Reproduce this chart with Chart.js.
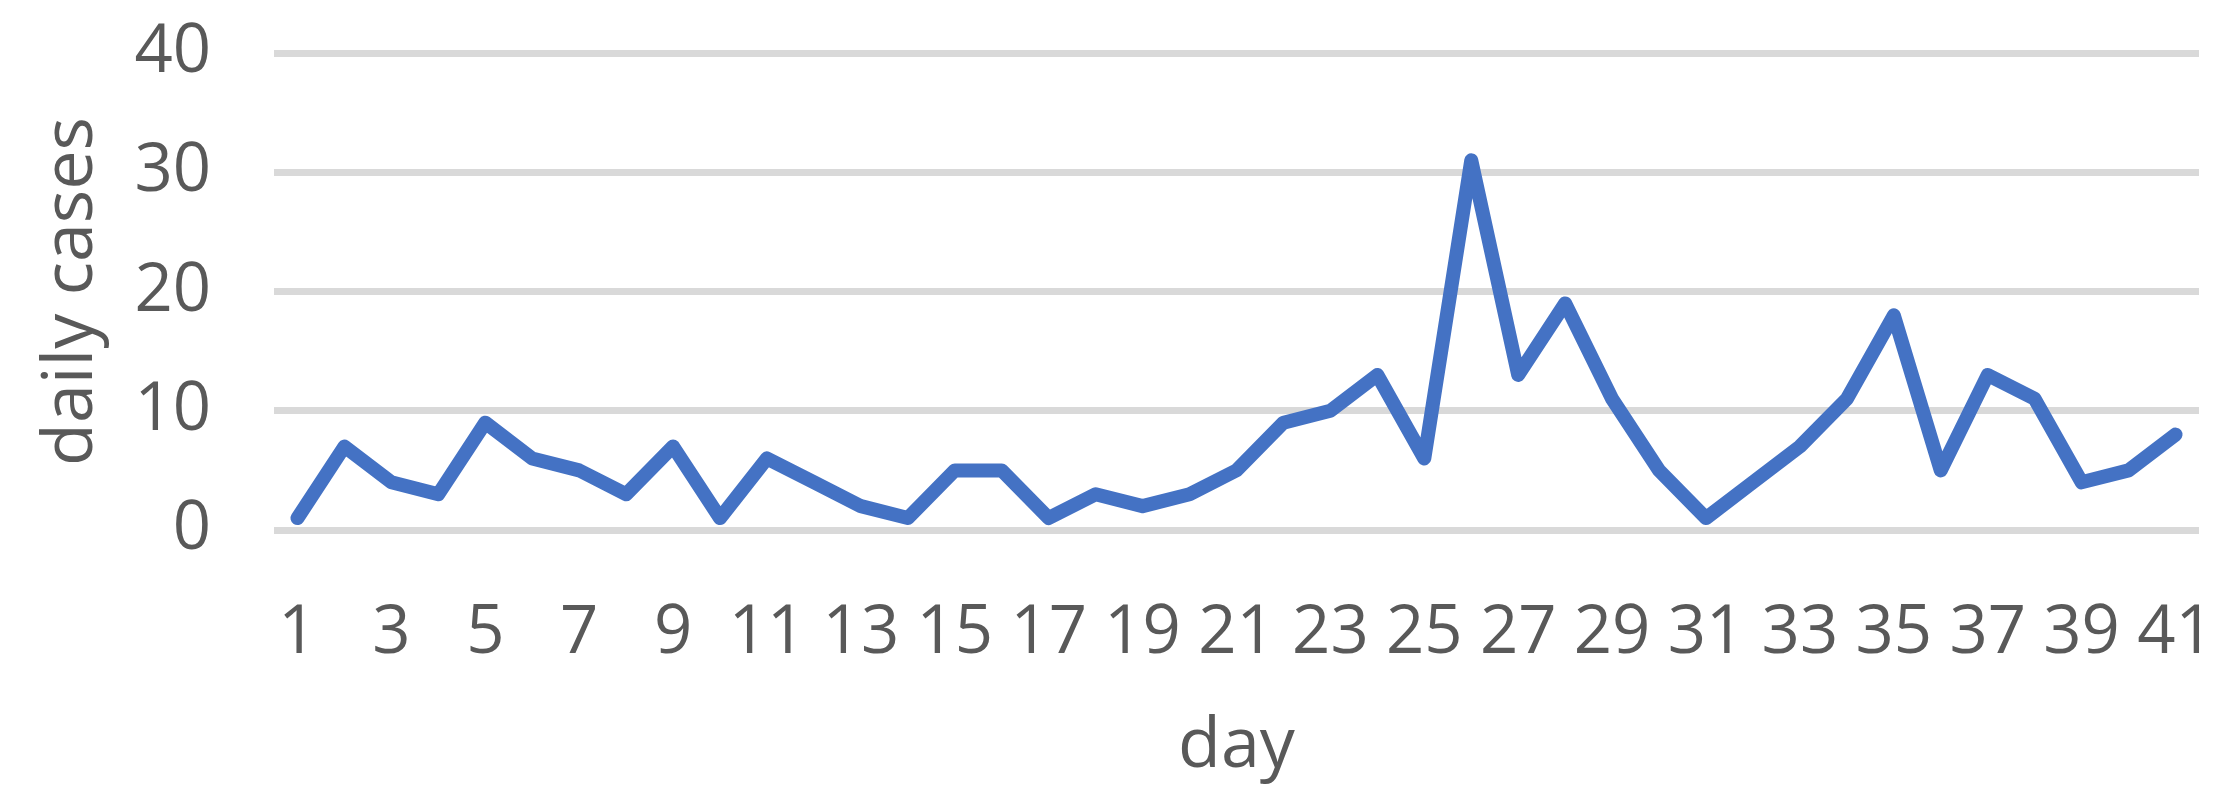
<!DOCTYPE html>
<html>
<head>
<meta charset="utf-8">
<script src="https://cdn.jsdelivr.net/npm/chart.js@4"></script>
<style>
  body { margin: 0; background: #fff; }
  #wrap { width: 2237px; height: 807px; }
</style>
</head>
<body>
<div id="wrap"><canvas id="myChart"></canvas></div>
<script>
// days 1..41
const days = ['1','2','3','4','5','6','7','8','9','10','11','12','13','14','15','16','17','18','19','20',
              '21','22','23','24','25','26','27','28','29','30','31','32','33','34','35','36','37','38','39','40','41'];
const cases = [1, 7, 4, 3, 9, 6, 5, 3, 7, 1, 6, 4, 2, 1, 5, 5, 1, 3,
               2, 3, 5, 9, 10, 13, 6, 31, 13, 19, 11, 5, 1, 4, 7, 11, 18, 5, 13, 11, 4, 5, 8];
const yTicks = [0, 10, 20, 30, 40];

const textColor = '#595959';

const ctx = document.getElementById('myChart').getContext('2d');
const myChart = new Chart(ctx, {
    type: 'line',
    data: {
        labels: days,
        datasets: [{
            label: 'daily cases',
            data: cases,
            borderColor: '#4472C4',
            backgroundColor: '#4472C4',
            borderWidth: 14,
            borderCapStyle: 'round',
            borderJoinStyle: 'round',
            pointRadius: 0,
            tension: 0,
            fill: false
        }]
    },
    options: {
        responsive: true,
        maintainAspectRatio: false,
        animation: false,
        layout: {
            padding: { top: 53, right: 38, bottom: 0, left: 0 }
        },
        plugins: {
            legend: { display: false },
            tooltip: { enabled: false }
        },
        scales: {
            x: {
                offset: true,
                grid: { display: false },
                border: { display: false },
                ticks: {
                    autoSkip: false,
                    maxRotation: 0,
                    padding: 56,
                    color: textColor,
                    font: { family: 'Open Sans', size: 67 },
                    callback: function(val, i) { return i % 2 === 0 ? days[i] : ''; }
                },
                title: {
                    display: true,
                    text: 'day',
                    color: textColor,
                    font: { family: 'Open Sans', size: 70 },
                    padding: { top: 0, bottom: 18 }
                },
                afterFit: function(scale) {
                    scale.height = 277;
                    scale.paddingLeft = 0;
                    scale.paddingRight = 0;
                }
            },
            y: {
                min: yTicks[0],
                max: yTicks[yTicks.length - 1],
                afterBuildTicks: function(scale) {
                    scale.ticks = yTicks.map(v => ({ value: v }));
                },
                grid: {
                    color: '#d9d9d9',
                    lineWidth: 7,
                    drawTicks: false
                },
                border: { display: false },
                ticks: {
                    padding: 63,
                    color: textColor,
                    font: { family: 'Open Sans', size: 67 }
                },
                title: {
                    display: true,
                    text: 'daily cases',
                    color: textColor,
                    font: { family: 'Open Sans', size: 70 },
                    padding: { top: 30, bottom: 0 }
                },
                afterFit: function(scale) {
                    scale.width = 274;
                    scale.paddingTop = 0;
                    scale.paddingBottom = 0;
                }
            }
        }
    }
});
</script>
</body>
</html>
